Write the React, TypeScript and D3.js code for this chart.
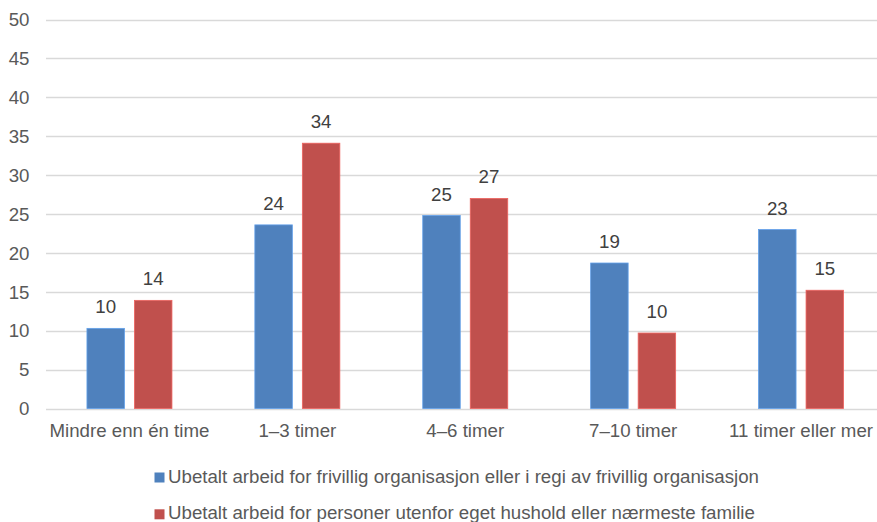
import React from "react";
import * as d3 from "d3";

const categories = ["Mindre enn én time", "1–3 timer", "4–6 timer", "7–10 timer", "11 timer eller mer"];
const seriesNames = [
  "Ubetalt arbeid for frivillig organisasjon eller i regi av frivillig organisasjon",
  "Ubetalt arbeid for personer utenfor eget hushold eller nærmeste familie",
];
const frivillig = [10.3, 23.6, 24.8, 18.7, 23.0];
const personer = [13.9, 34.1, 27.0, 9.7, 15.2];
const yTicks = [0, 5, 10, 15, 20, 25, 30, 35, 40, 45, 50];
const colors = ["#4F81BD", "#C0504D"];

const W = 877;
const H = 522;
const FONT = "'Liberation Sans', Arial, sans-serif";

const App = () => {
  const svgRef = React.useRef(null);

  React.useEffect(() => {
    const svg = d3.select(svgRef.current);
    svg.selectAll("*").remove();

    const y = d3.scaleLinear().domain([0, 50]).range([408.5, 19.5]);
    const x = d3.scaleBand().domain(categories).range([45.5, 885]);
    const x1 = d3.scaleBand().domain(["0", "1"]).range([0, 85]).paddingInner(10 / 47.5);
    const series = [frivillig, personer];

    // grid
    svg.append("g")
      .selectAll("line")
      .data(yTicks)
      .join("line")
      .attr("x1", 46)
      .attr("x2", W)
      .attr("y1", d => Math.round(y(d)) + 0.5)
      .attr("y2", d => Math.round(y(d)) + 0.5)
      .attr("stroke", "#d9d9d9")
      .attr("stroke-width", 1.3);

    svg.append("g")
      .selectAll("text")
      .data(yTicks)
      .join("text")
      .attr("x", 29.5)
      .attr("y", d => y(d))
      .attr("dy", "0.36em")
      .attr("text-anchor", "end")
      .attr("font-family", FONT)
      .attr("font-size", 18.7)
      .attr("fill", "#595959")
      .text(d => d);

    // bars
    const groups = svg.append("g")
      .selectAll("g")
      .data(categories)
      .join("g")
      .attr("transform", d => `translate(${x(d) + x.bandwidth() / 2 - 42.5},0)`);

    groups.each(function (cat, ci) {
      const g = d3.select(this);
      series.forEach((vals, si) => {
        const v = vals[ci];
        g.append("rect")
          .attr("x", x1(String(si)))
          .attr("y", y(v))
          .attr("width", x1.bandwidth())
          .attr("height", y(0) - y(v))
          .attr("fill", colors[si])
          .attr("stroke", d3.color(colors[si]).brighter(0.6))
          .attr("stroke-width", 0.8);
        g.append("text")
          .attr("x", x1(String(si)) + x1.bandwidth() / 2)
          .attr("y", y(v) - 15)
          .attr("text-anchor", "middle")
          .attr("font-family", FONT)
          .attr("font-size", 18.7)
          .attr("fill", "#404040")
          .text(Math.round(v));
      });
    });

    // category labels
    svg.append("g")
      .selectAll("text")
      .data(categories)
      .join("text")
      .attr("x", d => x(d) + x.bandwidth() / 2)
      .attr("y", 437)
      .attr("text-anchor", "middle")
      .attr("font-family", FONT)
      .attr("font-size", 18.7)
      .attr("fill", "#595959")
      .text(d => d);

    // legend
    const legend = svg.append("g")
      .selectAll("g")
      .data(seriesNames)
      .join("g")
      .attr("transform", (d, i) => `translate(154.5,${482.5 + i * 36.8})`);
    legend.append("rect")
      .attr("x", 0)
      .attr("y", -10)
      .attr("width", 10)
      .attr("height", 10)
      .attr("fill", (d, i) => colors[i]);
    legend.append("text")
      .attr("x", 13.5)
      .attr("y", 0)
      .attr("font-family", FONT)
      .attr("font-size", 18.7)
      .attr("fill", "#595959")
      .text(d => d);
  }, []);

  return (
    <svg
      ref={svgRef}
      width={W}
      height={H}
      style={{ position: "absolute", left: 0, top: 0, background: "#fff" }}
    />
  );
};

export default App;
